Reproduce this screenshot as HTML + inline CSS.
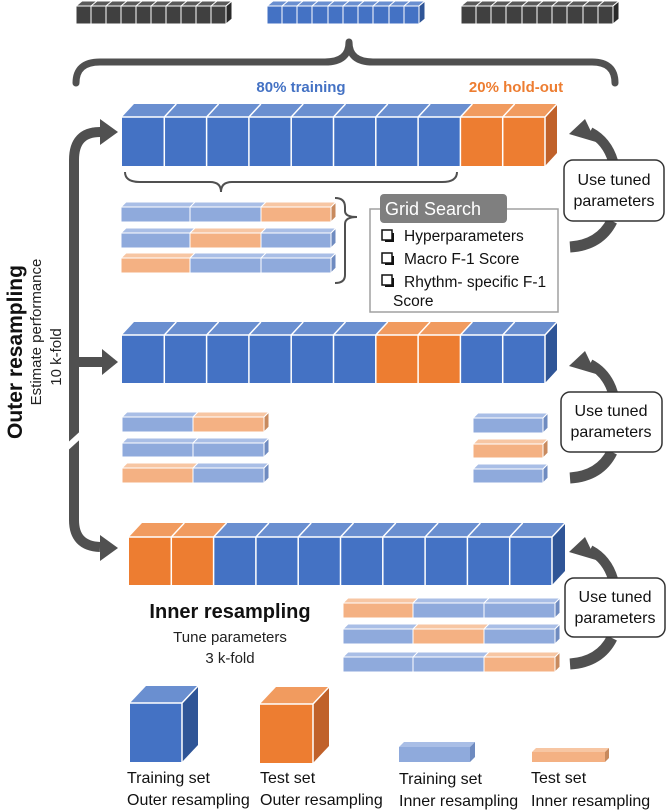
<!DOCTYPE html>
<html><head><meta charset="utf-8"><style>
html,body{margin:0;padding:0;background:#fff;}
svg{display:block;font-family:"Liberation Sans",sans-serif;}
</style></head><body>
<svg width="666" height="811" viewBox="0 0 666 811" xmlns="http://www.w3.org/2000/svg">
<!-- top strips -->
<g stroke="#fff" stroke-width="1">
<polygon points="76,6 82,1 232,1 226,6" fill="#5a5a5a"/><rect x="76" y="6" width="150" height="18" fill="#404040"/><polygon points="226,6 232,1 232,19 226,24" fill="#2a2a2a"/>
<polygon points="267,6 273,1 425,1 419,6" fill="#6a8fd0"/><rect x="267" y="6" width="152" height="18" fill="#4472c4"/><polygon points="419,6 425,1 425,19 419,24" fill="#2f5597"/>
<polygon points="461,6 467,1 619,1 613,6" fill="#5a5a5a"/><rect x="461" y="6" width="152" height="18" fill="#404040"/><polygon points="613,6 619,1 619,19 613,24" fill="#2a2a2a"/>
<path d="M91,24V6l6,-5M106,24V6l6,-5M121,24V6l6,-5M136,24V6l6,-5M151,24V6l6,-5M166,24V6l6,-5M181,24V6l6,-5M196,24V6l6,-5M211,24V6l6,-5M282,24V6l6,-5M297,24V6l6,-5M312,24V6l6,-5M328,24V6l6,-5M343,24V6l6,-5M358,24V6l6,-5M373,24V6l6,-5M389,24V6l6,-5M404,24V6l6,-5M476,24V6l6,-5M491,24V6l6,-5M506,24V6l6,-5M522,24V6l6,-5M537,24V6l6,-5M552,24V6l6,-5M567,24V6l6,-5M583,24V6l6,-5M598,24V6l6,-5" fill="none"/>
</g>
<!-- big brace -->
<path d="M76,83 Q76,62 100,62 L325,62 Q349,62 349,42 Q349,62 373,62 L592,62 Q615,62 615,83" fill="none" stroke="#505050" stroke-width="7" stroke-linecap="round" stroke-linejoin="round"/>
<text x="301" y="92" text-anchor="middle" font-size="15" font-weight="bold" fill="#4472c4">80% training</text>
<text x="516" y="92" text-anchor="middle" font-size="15" font-weight="bold" fill="#ed7d31">20% hold-out</text>

<!-- Row 1 -->
<g>
<rect x="122" y="117" width="338.4" height="49" fill="#4472c4"/><rect x="460.4" y="117" width="84.6" height="49" fill="#ed7d31"/>
<polygon points="122,117 134,104 472.4,104 460.4,117" fill="#6a8fd0"/><polygon points="460.4,117 472.4,104 557,104 545,117" fill="#f19b5f"/>
<polygon points="545,117 557,104 557,153 545,166" fill="#c0612a"/>
<path d="M164.3,166V117l12,-13M206.6,166V117l12,-13M248.9,166V117l12,-13M291.2,166V117l12,-13M333.5,166V117l12,-13M375.8,166V117l12,-13M418.1,166V117l12,-13M460.4,166V117l12,-13M502.7,166V117l12,-13M545,166V117l12,-13M122,117H545" stroke="#fff" stroke-width="1.5" fill="none"/>
</g>
<path d="M125,172 Q125,182 140,182 L210,182 Q221,182 221,192 Q221,182 232,182 L442,182 Q457,182 457,172" fill="none" stroke="#505050" stroke-width="2"/>

<!-- Set1 small rows -->
<g stroke="#fff" stroke-width="1">
<rect x="121" y="207" width="140" height="15" fill="#8faadc"/><rect x="261" y="207" width="70" height="15" fill="#f4b183"/>
<polygon points="121,207 126,202 266,202 261,207" fill="#a9bee6"/><polygon points="261,207 266,202 336,202 331,207" fill="#f7c6a3"/><polygon points="331,207 336,202 336,217 331,222" fill="#c88a5e"/>
<path d="M190,222V207l5,-5" fill="none"/>
<rect x="121" y="233" width="69" height="15" fill="#8faadc"/><rect x="190" y="233" width="71" height="15" fill="#f4b183"/><rect x="261" y="233" width="70" height="15" fill="#8faadc"/>
<polygon points="121,233 126,228 195,228 190,233" fill="#a9bee6"/><polygon points="190,233 195,228 266,228 261,233" fill="#f7c6a3"/><polygon points="261,233 266,228 336,228 331,233" fill="#a9bee6"/><polygon points="331,233 336,228 336,243 331,248" fill="#6f8bc0"/>
<rect x="121" y="258" width="69" height="15" fill="#f4b183"/><rect x="190" y="258" width="141" height="15" fill="#8faadc"/>
<polygon points="121,258 126,253 195,253 190,258" fill="#f7c6a3"/><polygon points="190,258 195,253 336,253 331,258" fill="#a9bee6"/><polygon points="331,258 336,253 336,268 331,273" fill="#6f8bc0"/>
<path d="M261,273V258l5,-5" fill="none"/>
</g>
<path d="M335,198 Q345,198 345,207 L345,211 Q345,217 357,217 Q345,217 345,224 L345,275 Q345,283 335,283" fill="none" stroke="#505050" stroke-width="2"/>

<!-- Grid search -->
<rect x="370" y="209" width="188" height="103" fill="#fff" stroke="#a0a0a0" stroke-width="1.5"/>
<rect x="380" y="194" width="127" height="29" rx="4" fill="#7f7f7f"/>
<text x="385" y="215" font-size="18" fill="#fff">Grid Search</text>
<g fill="#fff" stroke="#111" stroke-width="1.5"><rect x="382" y="230" width="10" height="10"/><rect x="382" y="253" width="10" height="10"/><rect x="382" y="275" width="10" height="10"/></g>
<g fill="#111"><rect x="385" y="240" width="8" height="2"/><rect x="392" y="233" width="2" height="9"/><rect x="385" y="263" width="8" height="2"/><rect x="392" y="256" width="2" height="9"/><rect x="385" y="285" width="8" height="2"/><rect x="392" y="278" width="2" height="9"/></g>
<g font-size="15.5" fill="#111"><text x="404" y="241">Hyperparameters</text><text x="404" y="264">Macro F-1 Score</text><text x="404" y="287">Rhythm- specific F-1</text><text x="393" y="306">Score</text></g>

<!-- Row 2 -->
<g>
<rect x="122" y="335" width="253.8" height="48" fill="#4472c4"/><rect x="375.8" y="335" width="84.6" height="48" fill="#ed7d31"/><rect x="460.4" y="335" width="84.6" height="48" fill="#4472c4"/>
<polygon points="122,335 134,322 387.8,322 375.8,335" fill="#6a8fd0"/><polygon points="375.8,335 387.8,322 472.4,322 460.4,335" fill="#f19b5f"/><polygon points="460.4,335 472.4,322 557,322 545,335" fill="#6a8fd0"/>
<polygon points="545,335 557,322 557,370 545,383" fill="#2f5597"/>
<path d="M164.3,383V335l12,-13M206.6,383V335l12,-13M248.9,383V335l12,-13M291.2,383V335l12,-13M333.5,383V335l12,-13M375.8,383V335l12,-13M418.1,383V335l12,-13M460.4,383V335l12,-13M502.7,383V335l12,-13M545,383V335l12,-13M122,335H545" stroke="#fff" stroke-width="1.5" fill="none"/>
</g>

<!-- Set2 -->
<g stroke="#fff" stroke-width="1">
<rect x="122" y="417" width="71" height="15" fill="#8faadc"/><rect x="193" y="417" width="71" height="15" fill="#f4b183"/>
<polygon points="122,417 127,412 198,412 193,417" fill="#a9bee6"/><polygon points="193,417 198,412 269,412 264,417" fill="#f7c6a3"/><polygon points="264,417 269,412 269,427 264,432" fill="#c88a5e"/>
<rect x="122" y="443" width="142" height="14" fill="#8faadc"/>
<polygon points="122,443 127,438 269,438 264,443" fill="#a9bee6"/><polygon points="264,443 269,438 269,452 264,457" fill="#6f8bc0"/><path d="M193,457V443l5,-5" fill="none"/>
<rect x="122" y="468" width="71" height="15" fill="#f4b183"/><rect x="193" y="468" width="71" height="15" fill="#8faadc"/>
<polygon points="122,468 127,463 198,463 193,468" fill="#f7c6a3"/><polygon points="193,468 198,463 269,463 264,468" fill="#a9bee6"/><polygon points="264,468 269,463 269,478 264,483" fill="#6f8bc0"/>

<rect x="473" y="418" width="70" height="15" fill="#8faadc"/><polygon points="473,418 478,413 548,413 543,418" fill="#a9bee6"/><polygon points="543,418 548,413 548,428 543,433" fill="#6f8bc0"/>
<rect x="473" y="444" width="70" height="14" fill="#f4b183"/><polygon points="473,444 478,439 548,439 543,444" fill="#f7c6a3"/><polygon points="543,444 548,439 548,453 543,458" fill="#c88a5e"/>
<rect x="473" y="469" width="70" height="14" fill="#8faadc"/><polygon points="473,469 478,464 548,464 543,469" fill="#a9bee6"/><polygon points="543,469 548,464 548,478 543,483" fill="#6f8bc0"/>
</g>

<!-- Row 3 -->
<g>
<rect x="129" y="537" width="84.6" height="48" fill="#ed7d31"/><rect x="213.6" y="537" width="338.4" height="48" fill="#4472c4"/>
<polygon points="129,537 142,523 226.6,523 213.6,537" fill="#f19b5f"/><polygon points="213.6,537 226.6,523 565,523 552,537" fill="#6a8fd0"/>
<polygon points="552,537 565,523 565,571 552,585" fill="#2f5597"/>
<path d="M171.3,585V537l13,-14M213.6,585V537l13,-14M255.9,585V537l13,-14M298.2,585V537l13,-14M340.5,585V537l13,-14M382.8,585V537l13,-14M425.1,585V537l13,-14M467.4,585V537l13,-14M509.7,585V537l13,-14M552,585V537l13,-14M129,537H552" stroke="#fff" stroke-width="1.5" fill="none"/>
</g>
<text x="230" y="618" text-anchor="middle" font-size="20" font-weight="bold" fill="#111">Inner resampling</text>
<text x="230" y="642" text-anchor="middle" font-size="15" fill="#222">Tune parameters</text>
<text x="230" y="663" text-anchor="middle" font-size="15" fill="#222">3 k-fold</text>

<!-- Set3 -->
<g stroke="#fff" stroke-width="1">
<rect x="343" y="603" width="70" height="15" fill="#f4b183"/><rect x="413" y="603" width="142" height="15" fill="#8faadc"/>
<polygon points="343,603 348,598 418,598 413,603" fill="#f7c6a3"/><polygon points="413,603 418,598 560,598 555,603" fill="#a9bee6"/><polygon points="555,603 560,598 560,613 555,618" fill="#6f8bc0"/><path d="M484,618V603l5,-5" fill="none"/>
<rect x="343" y="629" width="70" height="15" fill="#8faadc"/><rect x="413" y="629" width="71" height="15" fill="#f4b183"/><rect x="484" y="629" width="71" height="15" fill="#8faadc"/>
<polygon points="343,629 348,624 418,624 413,629" fill="#a9bee6"/><polygon points="413,629 418,624 489,624 484,629" fill="#f7c6a3"/><polygon points="484,629 489,624 560,624 555,629" fill="#a9bee6"/><polygon points="555,629 560,624 560,639 555,644" fill="#6f8bc0"/>
<rect x="343" y="657" width="141" height="15" fill="#8faadc"/><rect x="484" y="657" width="71" height="15" fill="#f4b183"/>
<polygon points="343,657 348,652 489,652 484,657" fill="#a9bee6"/><polygon points="484,657 489,652 560,652 555,657" fill="#f7c6a3"/><polygon points="555,657 560,652 560,667 555,672" fill="#c88a5e"/><path d="M413,672V657l5,-5" fill="none"/>
</g>

<!-- tuned boxes and arrows -->
<g fill="#505050">
<path d="M613,161 Q607,141 590,132" stroke="#505050" stroke-width="10" fill="none"/><polygon points="569,134 585,119 596,142"/>
<path d="M612,221 Q600,245 570,247" stroke="#505050" stroke-width="11" fill="none"/>
<path d="M613,393 Q607,373 590,364" stroke="#505050" stroke-width="10" fill="none"/><polygon points="569,366 585,351 596,374"/>
<path d="M612,452 Q600,476 570,478" stroke="#505050" stroke-width="11" fill="none"/>
<path d="M613,579 Q607,559 590,550" stroke="#505050" stroke-width="10" fill="none"/><polygon points="569,552 585,537 596,560"/>
<path d="M612,638 Q600,662 570,664" stroke="#505050" stroke-width="11" fill="none"/>
</g>
<g fill="#fff" stroke="#333" stroke-width="1.5">
<rect x="564" y="160" width="100" height="61" rx="9"/><rect x="561" y="392" width="101" height="60" rx="9"/><rect x="565" y="578" width="100" height="59" rx="9"/>
</g>
<g font-size="16" fill="#111" text-anchor="middle">
<text x="614" y="185">Use tuned</text><text x="614" y="206">parameters</text>
<text x="611" y="416">Use tuned</text><text x="611" y="437">parameters</text>
<text x="615" y="602">Use tuned</text><text x="615" y="623">parameters</text>
</g>

<!-- left outer arrow -->
<g fill="#505050">
<path d="M74,520 L74,160 Q74,132 100,132" stroke="#505050" stroke-width="10" fill="none"/>
<polygon points="118,132 100,119 100,145"/>
<path d="M74,362 L102,362" stroke="#505050" stroke-width="10"/>
<polygon points="118,362 102,349 102,375"/>
<path d="M74,450 L74,520 Q74,546 100,547" stroke="#505050" stroke-width="10" fill="none"/>
<polygon points="118,548 100,535 100,561"/>
<polygon points="64,446 86,426 86,434 64,454" fill="#fff"/>
</g>
<text transform="translate(22,352) rotate(-90)" text-anchor="middle" font-size="21" font-weight="bold" fill="#111">Outer resampling</text>
<text transform="translate(41,332) rotate(-90)" text-anchor="middle" font-size="15" fill="#222">Estimate performance</text>
<text transform="translate(61,357) rotate(-90)" text-anchor="middle" font-size="15" fill="#222">10 k-fold</text>

<!-- legend -->
<rect x="130" y="703" width="52" height="59" fill="#4472c4"/><polygon points="130,703 146,686 198,686 182,703" fill="#6a8fd0"/><polygon points="182,703 198,686 198,745 182,762" fill="#2f5597"/>
<path d="M130,703H182L198,686M182,703V762" stroke="#fff" stroke-width="1.5" fill="none"/>
<rect x="260" y="704" width="53" height="59" fill="#ed7d31"/><polygon points="260,704 276,687 329,687 313,704" fill="#f19b5f"/><polygon points="313,704 329,687 329,746 313,763" fill="#c0612a"/>
<path d="M260,704H313L329,687M313,704V763" stroke="#fff" stroke-width="1.5" fill="none"/>
<rect x="399" y="747" width="71" height="15" fill="#8faadc"/><polygon points="399,747 404,742 475,742 470,747" fill="#a9bee6"/><polygon points="470,747 475,742 475,757 470,762" fill="#6f8bc0"/>
<rect x="532" y="752" width="73" height="10" fill="#f4b183"/><polygon points="532,752 536,748 609,748 605,752" fill="#f7c6a3"/><polygon points="605,752 609,748 609,758 605,762" fill="#c88a5e"/>
<g font-size="16" fill="#111">
<text x="127" y="783">Training set</text><text x="127" y="805">Outer resampling</text>
<text x="260" y="783">Test set</text><text x="260" y="805">Outer resampling</text>
<text x="399" y="784">Training set</text><text x="399" y="806">Inner resampling</text>
<text x="531" y="783">Test set</text><text x="531" y="806">Inner resampling</text>
</g>
</svg>
</body></html>
